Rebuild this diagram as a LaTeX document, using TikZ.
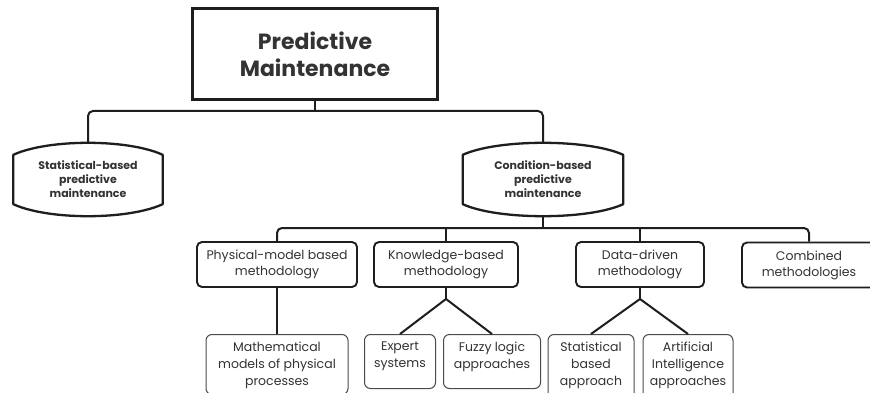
\documentclass[tikz,border=0pt]{standalone}
\usepackage{fontspec}
\setmainfont{Poppins}
\usetikzlibrary{calc}
\definecolor{ink}{HTML}{1E1E1E}
\definecolor{txt}{HTML}{333333}
\definecolor{leafline}{HTML}{4A4A4A}
% Outline of a box with bulging top and bottom edges, drawn round a named node
\newcommand\capsuleoutline[1]{%
  \draw[capline] ($(#1.north west)+(0,12)$)
    .. controls ($(#1.north west)+(35,-4)$) and ($(#1.north east)+(-35,-4)$) .. ($(#1.north east)+(0,12)$)
    -- ($(#1.south east)+(0,-12)$)
    .. controls ($(#1.south east)+(-35,4)$) and ($(#1.south west)+(35,4)$) .. ($(#1.south west)+(0,-12)$)
    -- cycle;}
\begin{document}
\begin{tikzpicture}[x=1pt,y=-1pt,
  conn/.style={draw=ink,line width=2pt},
  titlebox/.style={draw=ink,line width=3pt,minimum width=245pt,minimum height=91pt,inner sep=0pt,
    text=txt,font=\fontsize{22}{27}\selectfont\bfseries,align=center},
  capsule/.style={minimum width=149pt,minimum height=73pt,inner sep=0pt,text=txt,
    font=\fontsize{11}{14}\selectfont\bfseries,align=center},
  capline/.style={draw=ink,line width=2.3pt,line join=round},
  midbox/.style={draw=ink,line width=1.9pt,rounded corners=5pt,minimum height=45pt,inner sep=0pt,
    text=txt,font=\fontsize{12.5}{16}\selectfont,align=center},
  leafbox/.style={draw=leafline,line width=1pt,rounded corners=6pt,inner sep=0pt,anchor=north},
  leaftext/.style={text=txt,font=\fontsize{12.5}{17}\selectfont,align=center,inner sep=0pt},
]
\clip (0,0) rectangle (870,393);
\fill[white] (0,0) rectangle (870,393);

% levels of the connector buses
\coordinate (bus1) at (0,111);
\coordinate (bus2) at (0,228);
\coordinate (fork) at (0,299);

% root
\node[titlebox] (pm) at (315,54.5) {Predictive\\Maintenance};

% first level
\node[capsule] (sbpm) at (88,179.5) {Statistical-based\\predictive\\maintenance};
\node[capsule,minimum width=160pt] (cbpm) at (543,179.5) {Condition-based\\predictive\\maintenance};
\capsuleoutline{sbpm}
\capsuleoutline{cbpm}

% methodologies
\node[midbox,minimum width=160pt] (phys) at (277,264.5) {Physical-model based\\methodology};
\node[midbox,minimum width=144pt] (know) at (446,264.5) {Knowledge-based\\methodology};
\node[midbox,minimum width=128pt] (data) at (640,264.5) {Data-driven\\methodology};
\node[midbox,minimum width=134pt] (comb) at (809,265) {Combined\\methodologies};

% approaches
\node[leafbox,minimum width=142pt,minimum height=60pt] (math) at (277,334) {};
\node[leaftext] (math-t) at (277,365) {Mathematical\\models of physical\\processes};
\node[leafbox,minimum width=71pt,minimum height=54pt] (expert) at (400,334) {};
\node[leaftext] (expert-t) at (400,356.5) {Expert\\systems};
\node[leafbox,minimum width=97pt,minimum height=54pt] (fuzzy) at (492,334) {};
\node[leaftext] (fuzzy-t) at (492,356.5) {Fuzzy logic\\approaches};
\node[leafbox,minimum width=86pt,minimum height=66pt] (stat) at (591,334) {};
\node[leaftext] (stat-t) at (591,365) {Statistical\\based\\approach};
\node[leafbox,minimum width=90pt,minimum height=66pt] (ai) at (688,334) {};
\node[leaftext] (ai-t) at (688,365) {Artificial\\Intelligence\\approaches};

% connectors
\draw[conn] (pm.south) -- (pm.south |- bus1);
\draw[conn,rounded corners=5pt] (sbpm.north) |- (pm.south |- bus1) -| (cbpm.north);
\draw[conn] (cbpm.south) -- (cbpm.south |- bus2);
\draw[conn,rounded corners=5pt] (phys.north) |- (cbpm.south |- bus2) -| (comb.north);
\draw[conn] (know.north) -- (know.north |- bus2);
\draw[conn] (data.north) -- (data.north |- bus2);
\draw[conn] (phys.south) -- (math.north);
\draw[conn] (know.south) -- (know.south |- fork) coordinate (kfork);
\draw[conn] (expert.north) -- (kfork) -- (fuzzy.north);
\draw[conn] (data.south) -- (data.south |- fork) coordinate (dfork);
\draw[conn] (stat.north) -- (dfork) -- (ai.north);
\end{tikzpicture}
\end{document}
